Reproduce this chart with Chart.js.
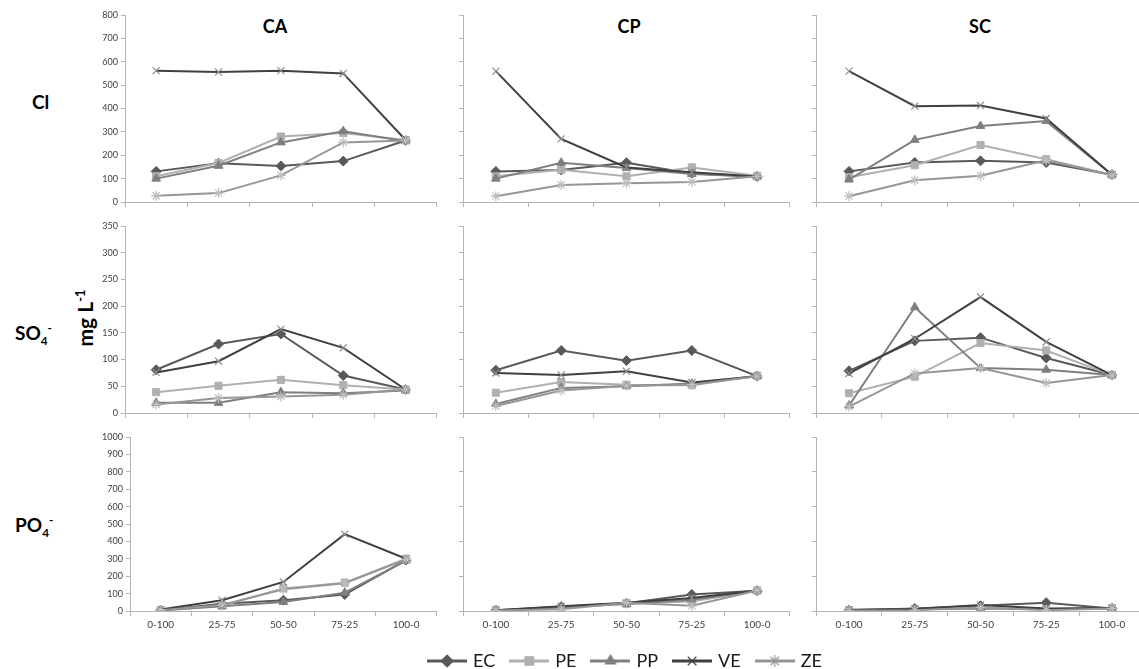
<!DOCTYPE html>
<html>
<head>
<meta charset="utf-8">
<script src="https://cdn.jsdelivr.net/npm/chart.js@4.4.1/dist/chart.umd.min.js"></script>
<style>
  html, body { margin: 0; padding: 0; background: #fff; overflow: hidden; }
  body { width: 1139px; height: 669px; position: relative; font-family: Lato, "Open Sans", sans-serif; }
  canvas { position: absolute; }
  .lbl { position: absolute; font-weight: bold; color: #000; transform: translate(-50%, -50%); white-space: nowrap; }
  .col { font-size: 18px; }
  .row { font-size: 19px; transform: translate(0, -50%); }
  .unit { font-size: 21px; transform: translate(-50%, -50%) rotate(-90deg); }
  sub, sup { font-size: 62%; }
</style>
</head>
<body>
<div class="lbl col" style="left:275px; top:26px;">CA</div>
<div class="lbl col" style="left:629px; top:26px;">CP</div>
<div class="lbl col" style="left:980px; top:26px;">SC</div>
<div class="lbl row" style="left:32px; top:101px;">Cl</div>
<div class="lbl row" style="left:15px; top:334px;">SO<sub>4</sub><sup>-</sup></div>
<div class="lbl row" style="left:15px; top:526px;">PO<sub>4</sub><sup>-</sup></div>
<div class="lbl unit" style="left:84px; top:318px;">mg L<sup>-1</sup></div>

<script>
// categories and series
var categories = ['0-100', '25-75', '50-50', '75-25', '100-0'];
var seriesNames = ['EC', 'PE', 'PP', 'VE', 'ZE'];

// Cl  (rows: EC, PE, PP, VE, ZE)
var clCA = [
  [131, 166, 154, 175, 263],
  [110, 167, 280, 295, 265],
  [100, 155, 255, 303, 260],
  [562, 556, 562, 550, 265],
  [27, 38, 114, 255, 263]
];
var clCP = [
  [131, 137, 168, 122, 109],
  [110, 138, 110, 148, 112],
  [100, 168, 145, 120, 108],
  [560, 270, 148, 127, 109],
  [25, 73, 80, 86, 110]
];
var clSC = [
  [131, 169, 176, 169, 117],
  [106, 157, 244, 183, 117],
  [96, 266, 325, 346, 117],
  [560, 410, 413, 357, 117],
  [25, 93, 112, 178, 115]
];

// SO4
var so4CA = [
  [81, 129, 148, 70, 44],
  [39, 51, 62, 52, 44],
  [19, 19, 39, 37, 42],
  [76, 97, 157, 122, 44],
  [16, 28, 31, 34, 44]
];
var so4CP = [
  [80, 117, 98, 117, 69],
  [38, 58, 53, 52, 70],
  [17, 47, 50, 55, 69],
  [75, 71, 78, 57, 69],
  [13, 42, 51, 53, 69]
];
var so4SC = [
  [79, 135, 141, 103, 71],
  [37, 68, 131, 117, 71],
  [14, 198, 84, 81, 71],
  [74, 139, 217, 133, 71],
  [12, 74, 84, 56, 71]
];

// PO4
var po4CA = [
  [5, 42, 62, 95, 293],
  [5, 30, 130, 163, 300],
  [3, 28, 52, 105, 290],
  [8, 62, 167, 442, 300],
  [5, 35, 125, 160, 297]
];
var po4CP = [
  [5, 25, 45, 95, 117],
  [5, 18, 42, 55, 118],
  [3, 22, 40, 65, 115],
  [5, 28, 47, 75, 118],
  [3, 10, 48, 30, 118]
];
var po4SC = [
  [5, 15, 30, 48, 15],
  [5, 8, 18, 10, 17],
  [3, 10, 15, 10, 15],
  [7, 12, 35, 15, 17],
  [3, 5, 20, 5, 15]
];

// y axis per row
var yMaxes = [800, 350, 1000];
var ySteps = [100, 50, 100];

// styles
var lineColors = ['#595959', '#b0b0b0', '#7f7f7f', '#404040', '#969696'];
var markerColors = ['#595959', '#b0b0b0', '#7f7f7f', '#8c8c8c', '#bdbdbd'];
var pointStyles = ['rectRot', 'rect', 'triangle', 'crossRot', 'star'];
var axisColor = '#b4b4b4';
var tickColor = '#404040';
var fontFam = 'Lato, "Open Sans", sans-serif';

// plot area boxes [left, right] per column, [top, bottom] per row
var colBoxes = [[125, 442], [462, 795], [815, 1150]];
var rowBoxes = [[15, 202], [226, 413], [437, 611]];
var PAD_TOP = 9;

function makePanel(row, col, values) {
  var showY = col === 0;
  var showX = row === 2;
  var yw = showY ? 45 : 5;
  var xh = showX ? 26 : 9;
  var left = colBoxes[col][0], right = colBoxes[col][1];
  if (row === 2 && col === 0) left = 130;
  var top = rowBoxes[row][0], bottom = rowBoxes[row][1];

  var cv = document.createElement('canvas');
  var w = right - left + yw + 1;
  var h = bottom - top + PAD_TOP + xh;
  cv.width = w; cv.height = h;
  cv.style.left = (left - yw) + 'px';
  cv.style.top = (top - PAD_TOP) + 'px';
  document.body.appendChild(cv);

  var step = ySteps[row];
  if (row === 2 && !showY) step = 200;

  var datasets = values.map(function (vals, i) {
    var stroke = i >= 3;
    return {
      label: seriesNames[i],
      data: vals,
      borderColor: lineColors[i],
      backgroundColor: markerColors[i],
      pointBorderColor: markerColors[i],
      pointBackgroundColor: markerColors[i],
      pointStyle: pointStyles[i],
      pointRadius: 5,
      pointBorderWidth: stroke ? 1.2 : 1,
      borderWidth: 2,
      tension: 0,
      order: 4 - i
    };
  });

  new Chart(cv, {
    type: 'line',
    data: { labels: categories, datasets: datasets },
    options: {
      responsive: false,
      animation: false,
      devicePixelRatio: 1,
      layout: { padding: { top: PAD_TOP, right: 1, left: 0, bottom: 0 } },
      plugins: { legend: { display: false }, tooltip: { enabled: false } },
      scales: {
        x: {
          type: 'category',
          offset: true,
          grid: { offset: true, drawOnChartArea: false, drawTicks: true, tickLength: 5, color: axisColor },
          border: { color: axisColor },
          ticks: { display: showX, color: tickColor, font: { size: 10, family: fontFam }, padding: 3, maxRotation: 0, autoSkip: false },
          afterFit: function (s) { s.height = xh; }
        },
        y: {
          min: 0,
          max: yMaxes[row],
          grid: { drawOnChartArea: false, tickLength: 4, color: axisColor },
          border: { color: axisColor },
          ticks: {
            display: showY, stepSize: step, color: tickColor,
            font: { size: 9, family: fontFam }, padding: 3,
            callback: function (v) { return String(v); }
          },
          afterFit: function (s) { s.width = yw; }
        }
      }
    }
  });
}

var panels = [
  [clCA, clCP, clSC],
  [so4CA, so4CP, so4SC],
  [po4CA, po4CP, po4SC]
];
panels.forEach(function (rowArr, r) {
  rowArr.forEach(function (vals, c) { makePanel(r, c, vals); });
});

// legend icons: line with marker
function legendIcon(i) {
  var c = document.createElement('canvas');
  c.width = 40; c.height = 14;
  var ctx = c.getContext('2d');
  ctx.strokeStyle = lineColors[i];
  ctx.lineWidth = 3;
  ctx.beginPath();
  ctx.moveTo(0, 7); ctx.lineTo(40, 7);
  ctx.stroke();
  ctx.fillStyle = markerColors[i];
  ctx.strokeStyle = i >= 3 ? lineColors[i] : markerColors[i];
  ctx.lineWidth = 1.2;
  Chart.helpers.drawPoint(ctx, { pointStyle: pointStyles[i], radius: 6, rotation: 0, borderWidth: 1.2 }, 20, 7);
  return c;
}

var lc = document.createElement('canvas');
lc.width = 800; lc.height = 34;
lc.style.left = '226px';
lc.style.top = '635px';
document.body.appendChild(lc);

new Chart(lc, {
  type: 'line',
  data: {
    labels: [],
    datasets: seriesNames.map(function (n, i) {
      return { label: n, data: [], borderColor: lineColors[i], backgroundColor: markerColors[i] };
    })
  },
  options: {
    responsive: false,
    animation: false,
    devicePixelRatio: 1,
    layout: { padding: 0 },
    scales: { x: { display: false }, y: { display: false } },
    plugins: {
      tooltip: { enabled: false },
      legend: {
        display: true,
        position: 'top',
        maxHeight: 34,
        labels: {
          usePointStyle: true,
          pointStyleWidth: 34,
          padding: 17,
          color: '#1a1a1a',
          font: { size: 18, family: fontFam },
          generateLabels: function () {
            return seriesNames.map(function (n, i) {
              return {
                text: n,
                pointStyle: legendIcon(i),
                fillStyle: 'transparent',
                strokeStyle: 'transparent',
                lineWidth: 0,
                hidden: false,
                fontColor: '#1a1a1a',
                datasetIndex: i
              };
            });
          }
        }
      }
    }
  }
});
</script>
</body>
</html>
